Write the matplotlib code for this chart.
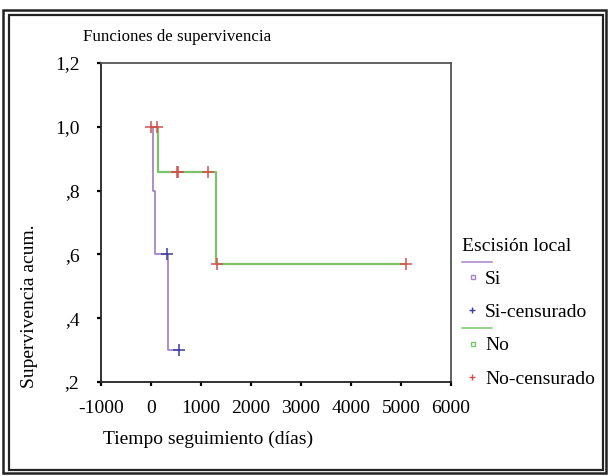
import matplotlib
matplotlib.use("Agg")
import matplotlib.pyplot as plt
from matplotlib.lines import Line2D
from matplotlib.legend_handler import HandlerBase
from matplotlib.patches import Rectangle

# ---- data ----
si_times = [0, 40, 80, 330]
si_surv = [1.0, 0.8, 0.6, 0.3]
si_end = 560
si_cens_t = [310, 560]
si_cens_s = [0.6, 0.3]

no_times = [0, 140, 1295]
no_surv = [1.0, 0.857, 0.571]
no_end = 5100
no_cens_t = [0, 125, 510, 540, 1145, 1325, 5100]
no_cens_s = [1.0, 1.0, 0.857, 0.857, 0.857, 0.571, 0.571]

x_ticks = [-1000, 0, 1000, 2000, 3000, 4000, 5000, 6000]
x_tick_labels = ['-1000', '0', '1000', '2000', '3000', '4000', '5000', '6000']
y_ticks = [0.2, 0.4, 0.6, 0.8, 1.0, 1.2]
y_tick_labels = [',2', ',4', ',6', ',8', '1,0', '1,2']

legend_title = 'Escisión local'
legend_labels = ['Si', 'Si-censurado', 'No', 'No-censurado']

# ---- style ----
PURPLE = '#a884c8'
GREEN = '#7cc46c'
RED = '#d2504f'
BLUE = '#3a3f9c'
FONT = 'Liberation Serif'
FS = 14
FS_TITLE = 12.2

plt.rcParams['font.family'] = [FONT, 'DejaVu Serif']

W, H = 608, 476
fig = plt.figure(figsize=(W / 100, H / 100), dpi=100)
ax = fig.add_axes([101 / W, 1 - 382 / H, 350 / W, 319 / H])

ax.step(si_times + [si_end], si_surv + [si_surv[-1]], where='post',
        color=PURPLE, lw=1.3)
ax.step(no_times + [no_end], no_surv + [no_surv[-1]], where='post',
        color=GREEN, lw=1.6)
ax.plot(si_cens_t, si_cens_s, ls='none', marker='+', ms=8, mew=1.1, color=BLUE)
ax.plot(no_cens_t, no_cens_s, ls='none', marker='+', ms=8, mew=1.1, color=RED)

ax.set_xlim(-1000, 6000)
ax.set_ylim(0.2, 1.2)
ax.set_xticks(x_ticks)
ax.set_xticklabels(x_tick_labels)
ax.set_yticks(y_ticks)
ax.set_yticklabels(y_tick_labels)
ax.tick_params(axis='both', labelsize=FS, length=3, width=1.6, color='black')
ax.tick_params(axis='y', pad=12.5)
ax.tick_params(axis='x', pad=10)
for name, sp in ax.spines.items():
    sp.set_linewidth(1.3)
    sp.set_color('#222222' if name in ('left', 'bottom') else '#555555')

fig.text(83 / W, 1 - 37 / H, 'Funciones de supervivencia', fontsize=FS_TITLE,
         ha='left', va='center')
fig.text(103 / W, 1 - 439 / H, 'Tiempo seguimiento (días)', fontsize=FS,
         ha='left', va='center')
fig.text(30 / W, 1 - 306 / H, 'Supervivencia acum.', fontsize=FS,
         ha='center', va='center', rotation=90)


class SquareWithLine(HandlerBase):
    def __init__(self, color):
        super().__init__()
        self.color = color

    def create_artists(self, legend, orig_handle, xdescent, ydescent,
                       width, height, fontsize, trans):
        yc = height / 2 - ydescent
        ln = Line2D([-xdescent, -xdescent + width * 1.55],
                    [yc + fontsize * 0.78] * 2, color=self.color, lw=1.1,
                    transform=trans)
        mk = Line2D([-xdescent + width * 0.55], [yc], ls='none', marker='s',
                    ms=3.5, mfc='none', mec=self.color, mew=1.0,
                    transform=trans)
        return [ln, mk]


h_si = Line2D([], [], color=PURPLE)
h_si_c = Line2D([], [], ls='none', marker='+', ms=5, mew=1.0, color=BLUE)
h_no = Line2D([], [], color=GREEN)
h_no_c = Line2D([], [], ls='none', marker='+', ms=5, mew=1.0, color=RED)

leg = fig.legend([h_si, h_si_c, h_no, h_no_c], legend_labels,
                 title=legend_title, loc='upper left',
                 bbox_to_anchor=(458 / W, 1 - 234 / H),
                 frameon=False, fontsize=FS, title_fontsize=FS,
                 handlelength=1.0, handletextpad=0.2, labelspacing=0.8,
                 borderpad=0.2, borderaxespad=0,
                 handler_map={h_si: SquareWithLine(PURPLE),
                              h_no: SquareWithLine(GREEN)})
leg._legend_box.align = 'left'

# double frame around figure
fig.patches.append(Rectangle((3 / W, 1 - 473 / H), 603 / W, 463 / H,
                             transform=fig.transFigure, fill=False,
                             ec='#222222', lw=1.8))
fig.patches.append(Rectangle((9 / W, 1 - 470 / H), 594 / W, 455 / H,
                             transform=fig.transFigure, fill=False,
                             ec='#222222', lw=1.6))

fig.savefig('out.png', dpi=100)
